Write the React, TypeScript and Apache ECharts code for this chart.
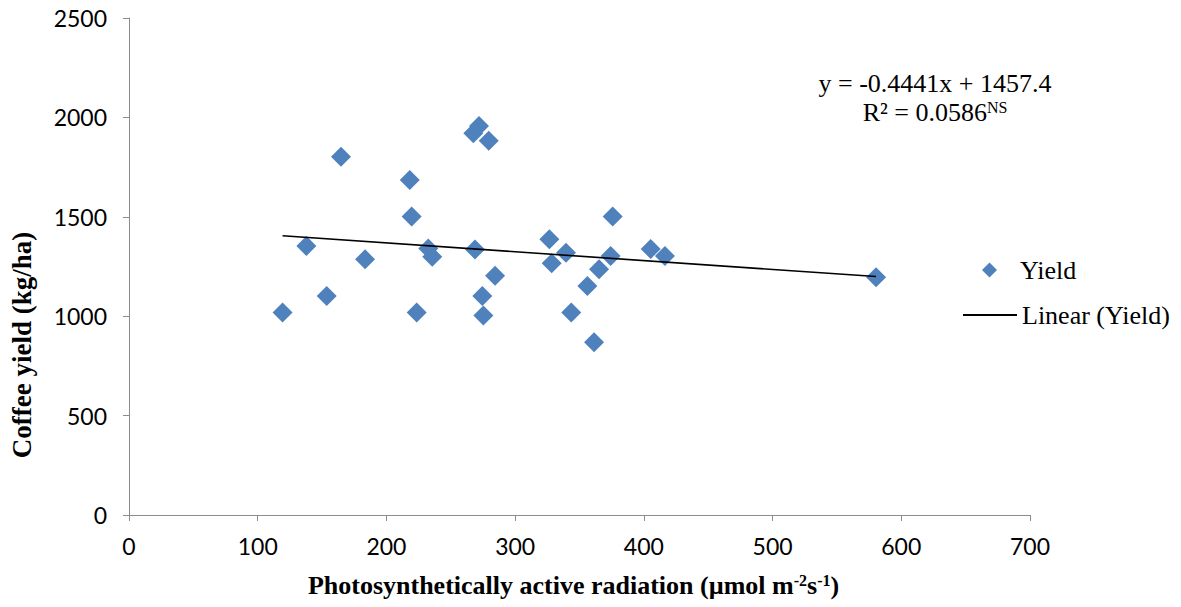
import React, { useEffect, useRef } from "react";
import * as echarts from "echarts";

// Photosynthetically active radiation (µmol m-2 s-1) per plot
const parValues = [
  119.3, 137.8, 153.6, 164.7, 183.4, 218.1, 219.6, 223.5, 232.5, 235.6,
  267.5, 271.9, 279.5, 268.8, 274.5, 275.3, 284.4, 326.6, 328.4, 339.5,
  343.6, 356.1, 365.2, 361.3, 374.2, 375.8, 405.3, 416.4, 580.4,
];
// Coffee yield (kg/ha) per plot
const yieldValues = [
  1018, 1353, 1101, 1802, 1286, 1685, 1502, 1018, 1341, 1299,
  1920, 1957, 1883, 1336, 1101, 1003, 1204, 1387, 1266, 1319,
  1018, 1152, 1236, 869, 1303, 1502, 1338, 1303, 1196,
];
// Linear trend: y = -0.4441x + 1457.4
const trendSlope = -0.4441;
const trendIntercept = 1457.4;
const xTicks = { min: 0, max: 700, interval: 100 };
const yTicks = { min: 0, max: 2500, interval: 500 };

const serif = "'Liberation Serif', 'Times New Roman', serif";
const sans = "Lato, 'Open Sans', sans-serif";

export default function App() {
  const ref = useRef<HTMLDivElement>(null);

  useEffect(() => {
    document.body.style.margin = "0";
    if (!ref.current) return;
    const chart = echarts.init(ref.current, undefined, { renderer: "svg" });

    const points = parValues.map((x, i) => [x, yieldValues[i]]);
    const xMin = Math.min(...parValues);
    const xMax = Math.max(...parValues);
    const trend = [xMin, xMax].map((x) => [x, trendSlope * x + trendIntercept]);

    const axisCommon = {
      type: "value" as const,
      splitLine: { show: false },
      axisLine: { show: true, lineStyle: { color: "#8c8c8c", width: 1 } },
      axisTick: { show: true, length: 6, inside: false, lineStyle: { color: "#8c8c8c" } },
      axisLabel: {
        color: "#000",
        fontFamily: sans,
        fontSize: 23,
        formatter: (v: number) => String(v),
      },
    };

    const legendText = { fontFamily: serif, fontSize: 26, color: "#000" };

    chart.setOption({
      animation: false,
      backgroundColor: "#fff",
      grid: { left: 129, right: 151, top: 18, bottom: 92, containLabel: false, outerBoundsMode: "none" },
      xAxis: {
        ...axisCommon,
        ...xTicks,
        axisLabel: { ...axisCommon.axisLabel, margin: 19 },
        name: "Photosynthetically active radiation (µmol m{s|-2}s{s|-1})",
        nameLocation: "middle",
        nameGap: 57,
        nameTextStyle: {
          fontFamily: serif,
          fontWeight: "bold",
          fontSize: 26,
          color: "#000",
          padding: [0, 12, 0, 0],
          rich: {
            s: { fontFamily: serif, fontWeight: "bold", fontSize: 16, color: "#000", verticalAlign: "top" },
          },
        },
      },
      yAxis: {
        ...axisCommon,
        ...yTicks,
        axisLabel: { ...axisCommon.axisLabel, margin: 22 },
      },
      legend: [
        {
          orient: "vertical",
          left: 977,
          top: 252,
          itemWidth: 15,
          itemHeight: 15,
          textStyle: { ...legendText, padding: [0, 0, 0, 18] },
          data: [{ name: "Yield", icon: "diamond" }],
        },
        {
          orient: "vertical",
          left: 958,
          top: 297,
          itemWidth: 54,
          itemHeight: 2,
          textStyle: legendText,
          data: [{ name: "Linear (Yield)", icon: "rect", itemStyle: { color: "#000" } }],
        },
      ],
      series: [
        {
          name: "Yield",
          type: "scatter",
          symbol: "diamond",
          symbolSize: 20,
          itemStyle: { color: "#4F81BD", opacity: 1 },
          data: points,
        },
        {
          name: "Linear (Yield)",
          type: "line",
          symbol: "none",
          showSymbol: false,
          lineStyle: { color: "#000", width: 1.6 },
          itemStyle: { color: "#000" },
          data: trend,
          z: 3,
        },
      ],
      graphic: [
        {
          type: "text",
          x: 935,
          y: 83,
          style: {
            text: "y = -0.4441x + 1457.4",
            font: `26px ${serif}`,
            fill: "#000",
            textAlign: "center",
            textVerticalAlign: "middle",
          },
        },
        {
          type: "text",
          x: 935,
          y: 112,
          style: {
            text: "{a|R² = 0.0586}{s|NS}",
            textAlign: "center",
            textVerticalAlign: "middle",
            rich: {
              a: { fontFamily: serif, fontSize: 26, fill: "#000", color: "#000" },
              s: { fontFamily: serif, fontSize: 16, fill: "#000", color: "#000", verticalAlign: "top" },
            },
          },
        },
        {
          type: "text",
          x: 22,
          y: 345,
          rotation: Math.PI / 2,
          style: {
            text: "Coffee yield (kg/ha)",
            font: `bold 27px ${serif}`,
            fill: "#000",
            textAlign: "center",
            textVerticalAlign: "middle",
          },
        },
      ],
    });

    return () => chart.dispose();
  }, []);

  return <div ref={ref} style={{ width: 1181, height: 607 }} />;
}
